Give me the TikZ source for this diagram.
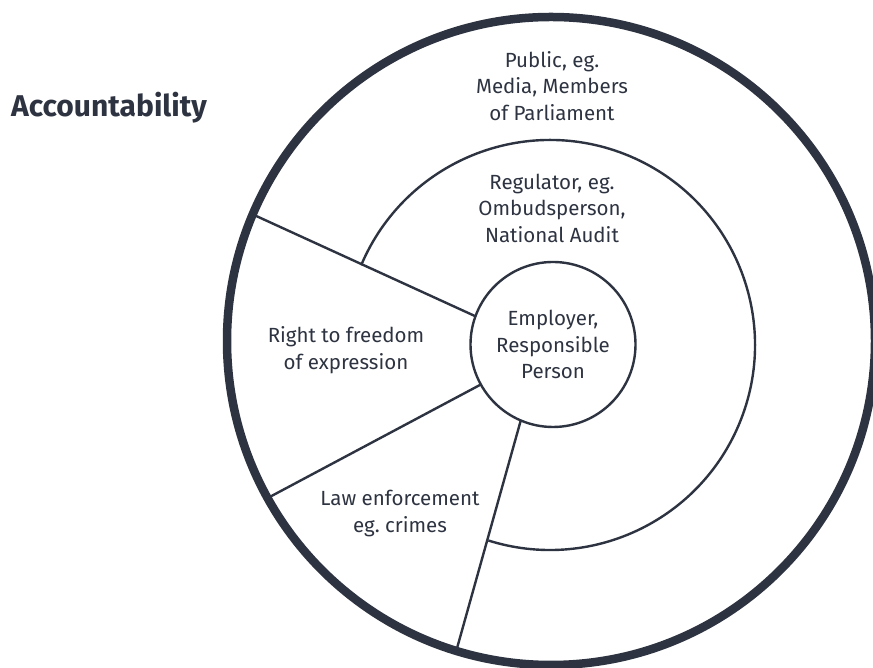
\documentclass[tikz,border=0pt]{standalone}
\usepackage{fontspec}
\setmainfont{Fira Sans}
\definecolor{ink}{HTML}{2D3340}
\frenchspacing
\begin{document}
\begin{tikzpicture}[x=1pt,y=1pt,
  ring/.style={circle, draw=ink, inner sep=0pt, outer sep=0pt},
  lbl/.style={align=center, text=ink, font=\fontsize{20.5}{26.5}\selectfont},
  seg/.style={draw=ink, line width=2.4pt}]
\useasboundingbox (0,0) rectangle (873,668);
\fill[white] (0,0) rectangle (873,668);
\clip (0,0) rectangle (873,668);
\node[ring, line width=8.5pt, minimum size=648pt] (outer) at (551,327) {};
\coordinate (mid) at (550,323);
\node[ring, line width=2.4pt, minimum size=165pt, lbl] (inner) at (553,323.5) {Employer,\\Responsible\\Person};
\draw[seg] (inner.160.8) -- (outer.157.1);
\draw[seg] (inner.209) -- (outer.209.2);
\draw[seg] (inner.247.5) -- (outer.253.5);
\draw[seg] (mid) ++(157.1:205) arc[start angle=157.1, end angle=-107.5, radius=205];
\node[lbl] (public) at (552,582) {Public, eg.\\Media, Members\\of Parliament};
\node[lbl] (reg) at (552,459.7) {Regulator, eg.\\Ombudsperson,\\National Audit};
\node[lbl] (right) at (346,318) {Right to freedom\\of expression};
\node[lbl] (law) at (400,154.5) {Law enforcement\\eg. crimes};
\node[text=ink, font=\fontsize{30}{34}\selectfont\bfseries, anchor=west, inner sep=0pt] (acc) at (11,560) {Accountability};
\end{tikzpicture}
\end{document}
